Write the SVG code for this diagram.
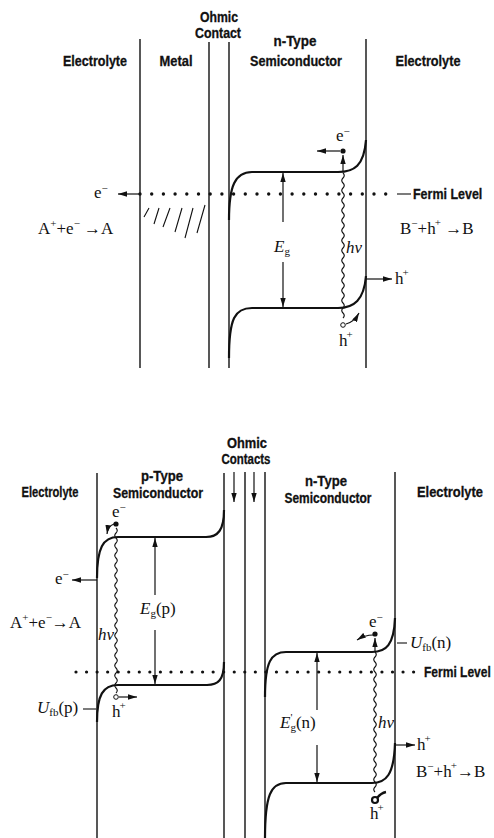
<svg xmlns="http://www.w3.org/2000/svg" width="494" height="838" viewBox="0 0 494 838">
<defs>
<marker id="ah" viewBox="0 0 10 6" refX="10" refY="3" markerWidth="9" markerHeight="5.5" markerUnits="userSpaceOnUse" orient="auto"><path d="M0,0 L10,3 L0,6 z" fill="#111"/></marker>
<style>
.lbl{font-family:"Liberation Sans","Arial",sans-serif;font-weight:bold;font-size:14.5px;text-anchor:middle;fill:#111;stroke:#111;stroke-width:0.3}
.lbs{font-family:"Liberation Sans","Arial",sans-serif;font-weight:bold;font-size:14.5px;fill:#111;stroke:#111;stroke-width:0.3}
.sci{font-family:"Liberation Serif","DejaVu Serif",serif;font-size:17px;fill:#111}
.it{font-style:italic}
.sup{font-size:11px}
.wall{stroke:#111;stroke-width:1.4;fill:none}
.band{stroke:#111;stroke-width:2.2;fill:none}
.arr{stroke:#111;stroke-width:1.2;fill:none;marker-end:url(#ah)}
.wave{stroke:#111;stroke-width:1.1;fill:none}
.thin{stroke:#111;stroke-width:1.1;fill:none}
.fermiT{stroke:#111;stroke-width:3.4;stroke-linecap:round;stroke-dasharray:0 11.7;fill:none}
.fermiB{stroke:#111;stroke-width:3.2;stroke-linecap:round;stroke-dasharray:0 10.55;fill:none}
</style>
</defs>
<rect width="494" height="838" fill="#fff"/>

<!-- ============ TOP PANEL ============ -->
<g id="top-walls">
<line class="wall" x1="140" y1="39" x2="140" y2="368"/>
<line class="wall" x1="209" y1="42" x2="209" y2="368"/>
<line class="wall" x1="229" y1="42" x2="229" y2="368"/>
<line class="wall" x1="366" y1="39" x2="366" y2="368"/>
</g>
<g id="top-labels">
<text class="lbl" x="95" y="66" textLength="64" lengthAdjust="spacingAndGlyphs">Electrolyte</text>
<text class="lbl" x="176" y="66" textLength="33" lengthAdjust="spacingAndGlyphs">Metal</text>
<text class="lbl" x="219" y="22" textLength="38" lengthAdjust="spacingAndGlyphs">Ohmic</text>
<text class="lbl" x="218" y="38" textLength="46" lengthAdjust="spacingAndGlyphs">Contact</text>
<text class="lbl" x="295" y="46" textLength="43" lengthAdjust="spacingAndGlyphs">n-Type</text>
<text class="lbl" x="296" y="66" textLength="92" lengthAdjust="spacingAndGlyphs">Semiconductor</text>
<text class="lbl" x="428" y="66" textLength="65" lengthAdjust="spacingAndGlyphs">Electrolyte</text>
</g>
<g id="top-fermi">
<path class="fermiT" d="M140,194 H394"/>
<line class="thin" x1="397" y1="194" x2="411" y2="194"/>
<text class="lbs" transform="translate(413,199) scale(0.86,1)" x="0" y="0">Fermi Level</text>
</g>
<g id="top-metal-hatch">
<path class="thin" d="M144,217 L149,208 M154,224 L159,208 M163,227 L170,208 M175,232 L182,208 M185,238 L193,208 M197,233 L205,205"/>
</g>
<g id="top-bands">
<path class="band" d="M229,220 C229,186 235,172 252,172 H338 C354,172 364,166 366,140"/>
<path class="band" d="M229,358 C229,318 235,308 252,308 H338 C354,308 364,300 366,276"/>
</g>
<g id="top-eg">
<line class="arr" x1="283" y1="222" x2="283" y2="173"/>
<line class="arr" x1="283" y1="262" x2="283" y2="307"/>
<text class="sci" x="274" y="252"><tspan class="it">E</tspan><tspan class="sup" dy="3">g</tspan></text>
</g>
<g id="top-electron">
<line class="arr" x1="343" y1="172" x2="343" y2="155"/>
<circle cx="343" cy="151" r="2.6" fill="#111"/>
<line class="arr" x1="340" y1="151" x2="317" y2="151"/>
<text class="sci" x="336" y="141">e<tspan class="sup" dy="-6">−</tspan></text>
</g>
<g id="top-photon">
<path class="wave" d="M343,173 q2.5,2.5 0,5 t0,5 t0,5 t0,5 t0,5 t0,5 t0,5 t0,5 t0,5 t0,5 t0,5 t0,5 t0,5 t0,5 t0,5 t0,5 t0,5 t0,5 t0,5 t0,5 t0,5 t0,5 t0,5 t0,5 t0,5 t0,5 t0,5 t0,5 t0,5"/>
<text class="sci it" x="346" y="253">hν</text>
</g>
<g id="top-hole">
<circle cx="343" cy="325" r="2.3" fill="#fff" stroke="#111" stroke-width="1"/>
<path class="arr" d="M346,324 Q354,322 359,313"/>
<text class="sci" x="339" y="346">h<tspan class="sup" dx="-1" dy="-8">+</tspan></text>
<line class="arr" x1="366" y1="279" x2="392" y2="279"/>
<text class="sci" x="395" y="284">h<tspan class="sup" dx="-1" dy="-8">+</tspan></text>
</g>
<g id="top-electrolyte">
<line class="arr" x1="140" y1="194" x2="118" y2="194"/>
<text class="sci" x="94" y="198">e<tspan class="sup" dy="-6">−</tspan></text>
<text class="sci" x="38" y="234">A<tspan class="sup" dy="-7">+</tspan><tspan dy="7">+e</tspan><tspan class="sup" dy="-7">−</tspan><tspan dy="7"> →A</tspan></text>
<text class="sci" x="400" y="234">B<tspan class="sup" dy="-7">−</tspan><tspan dy="7">+h</tspan><tspan class="sup" dx="-1" dy="-8">+</tspan><tspan dy="8"> →B</tspan></text>
</g>

<!-- ============ BOTTOM PANEL ============ -->
<g id="bot-walls">
<line class="wall" x1="97" y1="473" x2="97" y2="838"/>
<line class="wall" x1="224" y1="473" x2="224" y2="838"/>
<line class="wall" x1="245" y1="472" x2="245" y2="838"/>
<line class="wall" x1="265" y1="472" x2="265" y2="838"/>
<line class="wall" x1="395" y1="472" x2="395" y2="838"/>
</g>
<g id="bot-labels">
<text class="lbl" x="247" y="448" textLength="40" lengthAdjust="spacingAndGlyphs">Ohmic</text>
<text class="lbl" x="246" y="464" textLength="49" lengthAdjust="spacingAndGlyphs">Contacts</text>
<text class="lbl" x="162" y="481" textLength="42" lengthAdjust="spacingAndGlyphs">p-Type</text>
<text class="lbl" x="158" y="498" textLength="90" lengthAdjust="spacingAndGlyphs">Semiconductor</text>
<text class="lbl" x="50" y="497" textLength="57" lengthAdjust="spacingAndGlyphs">Electrolyte</text>
<text class="lbl" x="326" y="486" textLength="42" lengthAdjust="spacingAndGlyphs">n-Type</text>
<text class="lbl" x="328" y="503" textLength="87" lengthAdjust="spacingAndGlyphs">Semiconductor</text>
<text class="lbl" x="450" y="497" textLength="66" lengthAdjust="spacingAndGlyphs">Electrolyte</text>
</g>
<g id="bot-contact-arrows">
<line class="arr" x1="234" y1="472" x2="234" y2="502"/>
<line class="arr" x1="254" y1="472" x2="254" y2="502"/>
</g>
<g id="bot-fermi">
<path class="fermiB" d="M76,672 H418"/>
<text class="lbs" transform="translate(424,677) scale(0.83,1)" x="0" y="0">Fermi Level</text>
</g>
<g id="bot-p-bands">
<path class="band" d="M97,578 C97,548 103,537 118,537 H206 C218,537 224,530 224,510"/>
<path class="band" d="M97,722 C97,695 103,685 118,685 H207 C218,685 224,680 224,662"/>
</g>
<g id="bot-p-eg">
<line class="arr" x1="155" y1="595" x2="155" y2="538"/>
<line class="arr" x1="155" y1="630" x2="155" y2="684"/>
<text class="sci" x="140" y="614"><tspan class="it">E</tspan><tspan class="sup" dy="3">g</tspan><tspan dy="-3">(p)</tspan></text>
</g>
<g id="bot-p-electron">
<circle cx="116" cy="524" r="2.6" fill="#111"/>
<path class="arr" d="M114,524 Q108,526 107,534"/>
<text class="sci" x="112" y="517">e<tspan class="sup" dy="-6">−</tspan></text>
<line class="arr" x1="97" y1="580" x2="72" y2="580"/>
<text class="sci" x="55" y="584">e<tspan class="sup" dy="-6">−</tspan></text>
</g>
<g id="bot-p-photon">
<path class="wave" d="M116,528 q2.5,2.5 0,5 t0,5 t0,5 t0,5 t0,5 t0,5 t0,5 t0,5 t0,5 t0,5 t0,5 t0,5 t0,5 t0,5 t0,5 t0,5 t0,5 t0,5 t0,5 t0,5 t0,5 t0,5 t0,5 t0,5 t0,5 t0,5 t0,5 t0,5 t0,5 t0,5 t0,5 t0,5 t0,5"/>
<text class="sci it" x="98" y="640">hν</text>
</g>
<g id="bot-p-hole">
<circle cx="116" cy="697" r="2.3" fill="#fff" stroke="#111" stroke-width="1"/>
<line class="arr" x1="119" y1="697" x2="137" y2="697"/>
<text class="sci" x="112" y="717">h<tspan class="sup" dx="-1" dy="-8">+</tspan></text>
</g>
<g id="bot-p-electrolyte">
<text class="sci" x="10" y="628">A<tspan class="sup" dy="-7">+</tspan><tspan dy="7">+e</tspan><tspan class="sup" dy="-7">−</tspan><tspan dy="7">→A</tspan></text>
<text class="sci" x="37" y="713"><tspan class="it">U</tspan><tspan class="sup" dy="3">fb</tspan><tspan dy="-3">(p)</tspan></text>
<line class="thin" x1="83" y1="709" x2="96" y2="709"/>
</g>
<g id="bot-n-bands">
<path class="band" d="M265,697 C265,662 271,652 286,652 H372 C386,652 394,645 395,618"/>
<path class="band" d="M265,838 C265,795 271,783 286,783 H372 C386,783 394,775 395,743"/>
</g>
<g id="bot-n-eg">
<line class="arr" x1="317" y1="710" x2="317" y2="653"/>
<line class="arr" x1="317" y1="745" x2="317" y2="782"/>
<text class="sci" x="280" y="728"><tspan class="it">E</tspan><tspan class="sup" dy="-7">'</tspan><tspan class="sup" dx="-2" dy="10">g</tspan><tspan dy="-3">(n)</tspan></text>
</g>
<g id="bot-n-electron">
<line class="arr" x1="375" y1="652" x2="375" y2="638"/>
<circle cx="375" cy="634" r="2.6" fill="#111"/>
<path class="arr" d="M373,635 Q365,635 357,640"/>
<text class="sci" x="369" y="627">e<tspan class="sup" dy="-6">−</tspan></text>
<line class="thin" x1="397" y1="643" x2="407" y2="643"/>
<text class="sci" x="410" y="648"><tspan class="it">U</tspan><tspan class="sup" dy="3">fb</tspan><tspan dy="-3">(n)</tspan></text>
</g>
<g id="bot-n-photon">
<path class="wave" d="M375,652 q2.5,2.5 0,5 t0,5 t0,5 t0,5 t0,5 t0,5 t0,5 t0,5 t0,5 t0,5 t0,5 t0,5 t0,5 t0,5 t0,5 t0,5 t0,5 t0,5 t0,5 t0,5 t0,5 t0,5 t0,5 t0,5 t0,5 t0,5 t0,5 t0,5"/>
<text class="sci it" x="378" y="728">hν</text>
</g>
<g id="bot-n-hole">
<circle cx="375" cy="800" r="3" fill="#fff" stroke="#111" stroke-width="2.2"/>
<path d="M377,798 Q381,793 386,792" stroke="#111" stroke-width="2.4" fill="none"/>
<text class="sci" x="370" y="819">h<tspan class="sup" dx="-1" dy="-8">+</tspan></text>
<line class="arr" x1="395" y1="745" x2="415" y2="745"/>
<text class="sci" x="417" y="750">h<tspan class="sup" dx="-1" dy="-8">+</tspan></text>
<text class="sci" x="416" y="777">B<tspan class="sup" dy="-7">−</tspan><tspan dy="7">+h</tspan><tspan class="sup" dx="-1" dy="-8">+</tspan><tspan dy="8">→B</tspan></text>
</g>
</svg>
